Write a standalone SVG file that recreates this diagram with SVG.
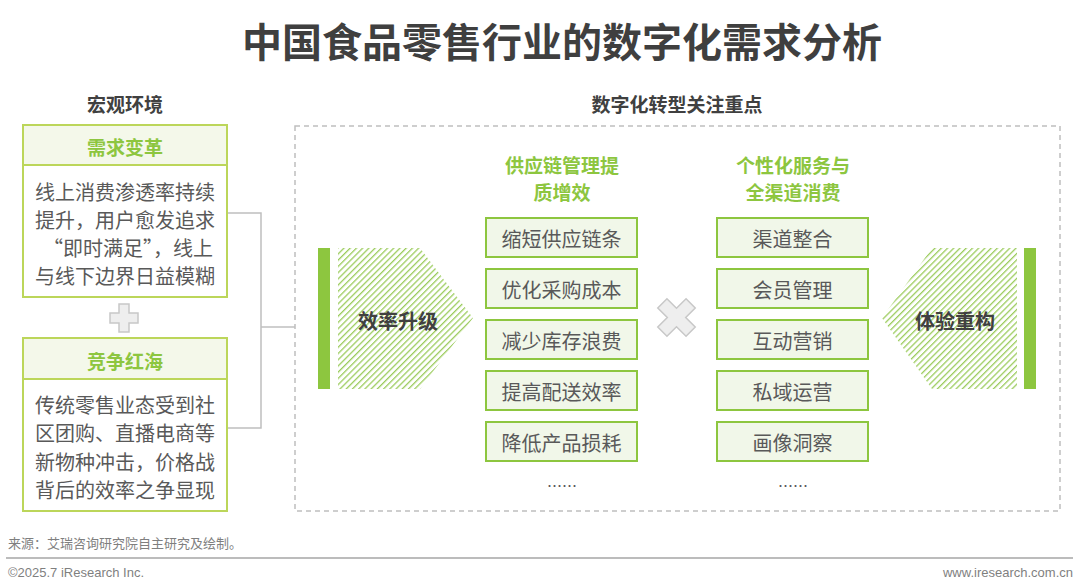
<svg xmlns="http://www.w3.org/2000/svg" width="1080" height="588" viewBox="0 0 1080 588">
<defs>
<pattern id="hatch" patternUnits="userSpaceOnUse" width="4.4" height="4.4" patternTransform="rotate(45)">
<rect x="0" y="0" width="1.3" height="4.4" fill="#9ccc5e"/>
</pattern>
<style>
text{font-family:"Noto Sans CJK SC","Liberation Sans",sans-serif;dominant-baseline:central;text-anchor:middle}
.title{font-size:40px;font-weight:bold;fill:#3f3f3f}
.sec{font-size:19px;font-weight:bold;fill:#404040}
.hd{font-size:19px;font-weight:bold;fill:#8dc63f}
.body{font-size:20px;fill:#595959}
.item{font-size:20px;fill:#595959}
.big{font-size:20px;font-weight:bold;fill:#404040}
.card{fill:#fff;stroke:#bcd65a;stroke-width:2}
.cardhd{fill:#f4f8ea;stroke:#bcd65a;stroke-width:2}
.ibox{fill:#f1f7e9;stroke:#8dc63f;stroke-width:2}
.bar{fill:#8dc63f}
.sym{fill:#eeeeee;stroke:#c8c8c8;stroke-width:1.5}
.conn{fill:none;stroke:#bfbfbf;stroke-width:1.5}
.foot{font-family:"Liberation Sans","Noto Sans CJK SC",sans-serif;font-size:13px;fill:#7f7f7f;text-anchor:start}
</style>
</defs>
<rect width="1080" height="588" fill="#fff"/>
<text class="title" x="562" y="40">中国食品零售行业的数字化需求分析</text>
<text class="sec" x="125" y="103">宏观环境</text>
<text class="sec" x="677" y="103">数字化转型关注重点</text>

<rect x="295" y="126" width="765" height="385" fill="none" stroke="#bfbfbf" stroke-width="1.5" stroke-dasharray="5,4"/>

<g id="connectors">
<polyline class="conn" points="227,213 261,213 261,428 227,428"/>
<line class="conn" x1="261" y1="327" x2="295" y2="327"/>
</g>

<g id="demand">
<rect class="card" x="23" y="125" width="204" height="172"/>
<rect class="cardhd" x="23" y="125" width="204" height="40"/>
<text class="hd" x="125" y="146">需求变革</text>
<text class="body" x="125" y="191">线上消费渗透率持续</text>
<text class="body" x="125" y="219">提升，用户愈发追求</text>
<text class="body" x="128" y="247">“即时满足”，线上</text>
<text class="body" x="125" y="275">与线下边界日益模糊</text>
</g>

<g id="plus">
<path class="sym" d="M119,304 h10 v9 h9 v10 h-9 v9 h-10 v-9 h-9 v-10 h9 z"/>
</g>

<g id="competition">
<rect class="card" x="23" y="338" width="204" height="173"/>
<rect class="cardhd" x="23" y="338" width="204" height="41"/>
<text class="hd" x="125" y="360">竞争红海</text>
<text class="body" x="125" y="404">传统零售业态受到社</text>
<text class="body" x="125" y="432">区团购、直播电商等</text>
<text class="body" x="125" y="461">新物种冲击，价格战</text>
<text class="body" x="125" y="489">背后的效率之争显现</text>
</g>

<g id="efficiency">
<rect class="bar" x="318" y="248" width="12" height="141"/>
<polygon points="338,248 420,248 473,318 420,389 338,389" fill="url(#hatch)"/>
<text class="big" x="398" y="320">效率升级</text>
</g>

<g id="experience">
<rect class="bar" x="1024" y="248" width="12" height="141"/>
<polygon points="1017,248 932,248 882,318 932,389 1017,389" fill="url(#hatch)"/>
<text class="big" x="955" y="320">体验重构</text>
</g>

<g id="supply">
<text class="hd" x="562" y="164">供应链管理提</text>
<text class="hd" x="562" y="191">质增效</text>
<rect class="ibox" x="486" y="218" width="151" height="39"/>
<text class="item" x="561.5" y="238">缩短供应链条</text>
<rect class="ibox" x="486" y="269" width="151" height="39"/>
<text class="item" x="561.5" y="289">优化采购成本</text>
<rect class="ibox" x="486" y="320" width="151" height="39"/>
<text class="item" x="561.5" y="340">减少库存浪费</text>
<rect class="ibox" x="486" y="371" width="151" height="39"/>
<text class="item" x="561.5" y="391">提高配送效率</text>
<rect class="ibox" x="486" y="422" width="151" height="39"/>
<text class="item" x="561.5" y="442">降低产品损耗</text>
<text class="item" x="562" y="485" style="font-size:15px">……</text>
</g>

<g id="cross">
<path class="sym" transform="translate(676.5,317.5) rotate(45)" d="M-6.5,-20 h13 v13.5 h13.5 v13 h-13.5 v13.5 h-13 v-13.5 h-13.5 v-13 h13.5 z"/>
</g>

<g id="service">
<text class="hd" x="793" y="164">个性化服务与</text>
<text class="hd" x="793" y="191">全渠道消费</text>
<rect class="ibox" x="717" y="218" width="151" height="39"/>
<text class="item" x="792.5" y="238">渠道整合</text>
<rect class="ibox" x="717" y="269" width="151" height="39"/>
<text class="item" x="792.5" y="289">会员管理</text>
<rect class="ibox" x="717" y="320" width="151" height="39"/>
<text class="item" x="792.5" y="340">互动营销</text>
<rect class="ibox" x="717" y="371" width="151" height="39"/>
<text class="item" x="792.5" y="391">私域运营</text>
<rect class="ibox" x="717" y="422" width="151" height="39"/>
<text class="item" x="792.5" y="442">画像洞察</text>
<text class="item" x="793" y="485" style="font-size:15px">……</text>
</g>

<g id="footer">
<text class="foot" x="8" y="543">来源：艾瑞咨询研究院自主研究及绘制。</text>
<line x1="6" y1="558" x2="1073" y2="558" stroke="#a6a6a6" stroke-width="1.5"/>
<text class="foot" x="8" y="572">©2025.7 iResearch Inc.</text>
<text class="foot" x="1073" y="572" style="text-anchor:end">www.iresearch.com.cn</text>
</g>
</svg>
